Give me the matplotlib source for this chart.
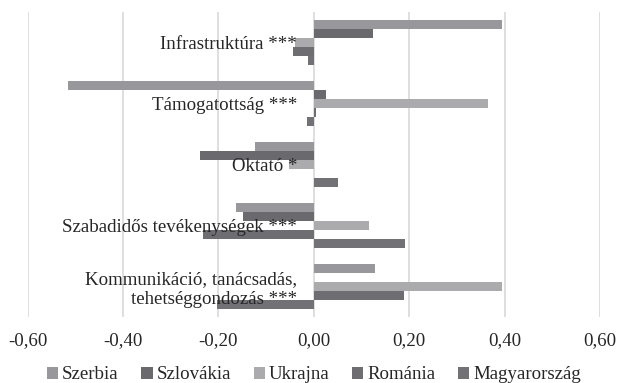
import numpy as np
import matplotlib.pyplot as plt

plt.rcParams['font.family'] = ['Liberation Serif', 'DejaVu Serif']

categories = ['Infrastruktúra ***', 'Támogatottság ***', 'Oktató *',
              'Szabadidős tevékenységek ***',
              'Kommunikáció, tanácsadás,\ntehetséggondozás ***']
series_names = ['Szerbia', 'Szlovákia', 'Ukrajna', 'Románia', 'Magyarország']
szerbia = [0.395, -0.515, -0.123, -0.164, 0.128]
szlovakia = [0.123, 0.025, -0.239, -0.148, 0.0]
ukrajna = [-0.040, 0.366, -0.052, 0.116, 0.395]
romania = [-0.043, 0.004, 0.0, -0.233, 0.188]
magyarorszag = [-0.012, -0.015, 0.050, 0.191, -0.204]
xticks = [-0.6, -0.4, -0.2, 0.0, 0.2, 0.4, 0.6]
xtick_labels = ['-0,60', '-0,40', '-0,20', '0,00', '0,20', '0,40', '0,60']

colors = ['#98989c', '#6a6a6e', '#ababae', '#6e6e72', '#727276']
values = [szerbia, szlovakia, ukrajna, romania, magyarorszag]

fig = plt.figure(figsize=(6.17, 3.83), dpi=100)
ax = fig.add_axes([0.0449, 0.1723, 0.9276, 0.7964])

y = np.arange(len(categories))
h = 0.15
for j, (name, vals, c) in enumerate(zip(series_names, values, colors)):
    ax.barh(y + (j - 2) * h, vals, height=h, color=c, label=name, zorder=2)

# spine first, it resets the ticks
ax.spines['left'].set_position(('data', 0))
for s in ['left', 'right', 'top', 'bottom']:
    ax.spines[s].set_visible(False)

fs = 13.6
ax.set_xlim(-0.6, 0.6)
ax.set_ylim(len(categories) - 0.5, -0.5)
ax.set_xticks(xticks)
ax.set_xticklabels(xtick_labels, fontsize=fs, color='#262626')
ax.set_yticks(y)
ax.set_yticklabels(categories, fontsize=fs, color='#262626')
ax.tick_params(axis='y', length=0, pad=12)
ax.tick_params(axis='x', length=0, pad=11)
ax.grid(axis='x', color='#d9d9d9', linewidth=1.2)
ax.set_axisbelow(True)
ax.yaxis.set_zorder(5)

ax.legend(loc='center', bbox_to_anchor=(0.5, -0.19), ncol=5, frameon=False,
          fontsize=fs, handlelength=0.6, handleheight=0.6, handletextpad=0.2,
          columnspacing=1.2, labelcolor='#262626')

fig.savefig('out.png', dpi=100)
